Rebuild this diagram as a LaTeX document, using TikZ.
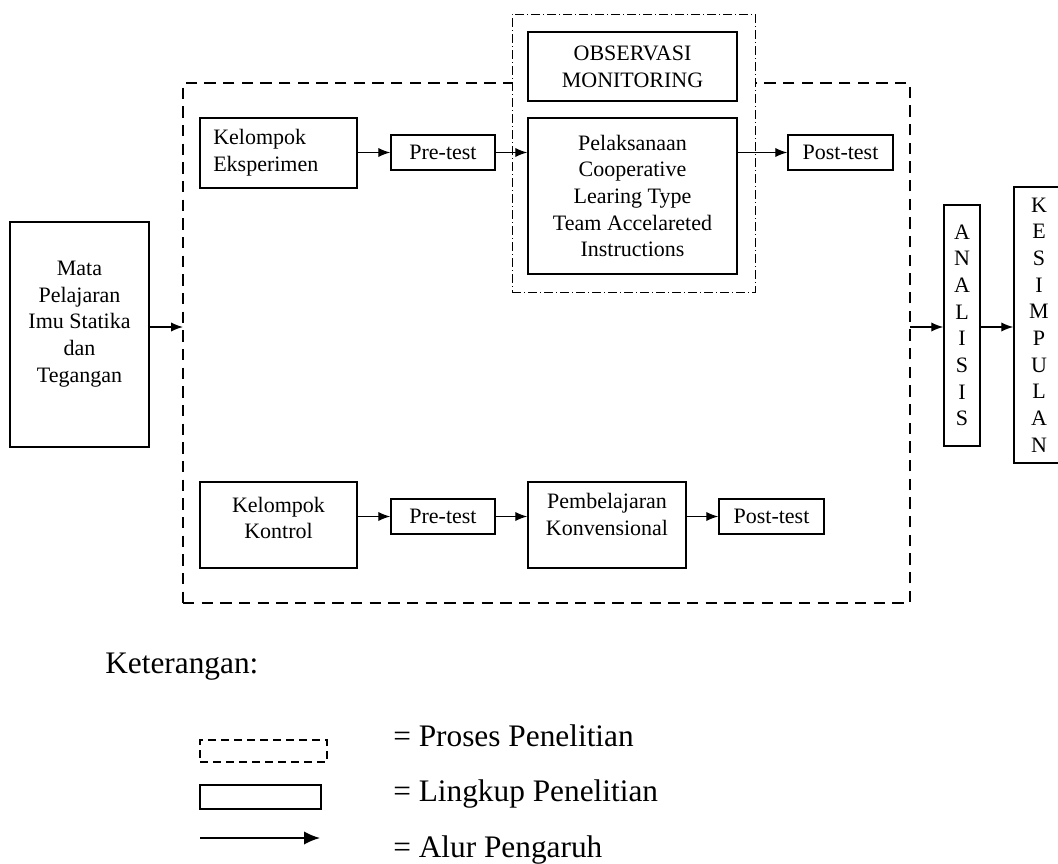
\documentclass[tikz,border=0pt]{standalone}
\usepackage{fontspec}
\setmainfont{Liberation Serif}
\usepackage{tikz}
\usetikzlibrary{arrows.meta}
\tikzstyle{box} = [rectangle, draw, line width=1.1pt, inner sep=0pt, align=center, font=\fontsize{16.5}{20}\selectfont]
\tikzstyle{txt} = [inner sep=0pt, align=center, font=\fontsize{16.5}{20}\selectfont]
\tikzstyle{flow} = [-{Latex[length=9pt, width=7pt]}, line width=1pt]
\tikzstyle{proses} = [rectangle, draw, line width=2.2pt, dash pattern=on 8.5pt off 5.5pt]
\tikzstyle{lingkup} = [rectangle, draw, line width=0.7pt, fill=white, dash pattern=on 7pt off 2pt on 1pt off 2pt]
\tikzstyle{legend} = [inner sep=0pt, font=\fontsize{23.5}{28}\selectfont]

\begin{document}
\begin{tikzpicture}[x=0.75pt, y=-0.75pt]
        \useasboundingbox (0, 0) rectangle (1058, 864);

        \node[box, minimum width=104.25pt, minimum height=168.75pt] at (79.5, 334.5) (Mata) {};
        \node[txt] at (79.5, 324) (MataText) {Mata\\Pelajaran\\Imu Statika\\dan\\Tegangan};

        \node[proses, minimum width=545.25pt, minimum height=390pt] at (546.5, 343) (Proses) {};
        \node[lingkup, minimum width=182.25pt, minimum height=208.5pt] at (633.5, 153) (Observasi) {};

        \node[box, minimum width=117.75pt, minimum height=52.5pt] at (278.5, 153) (KelEksp) {};
        \node[txt, align=left, anchor=west] at (213, 153) (KelEkspText) {Kelompok\\Eksperimen};
        \node[box, minimum width=78pt, minimum height=26.25pt] at (443, 152.5) (PreEksp) {Pre-test};
        \node[box, minimum width=156.75pt, minimum height=51.75pt] at (632.5, 66.5) (Obs) {OBSERVASI\\MONITORING};
        \node[box, minimum width=156.75pt, minimum height=117pt] at (632.5, 196) (TAI) {Pelaksanaan\\Cooperative\\Learing Type\\Team Accelareted\\Instructions};
        \node[box, minimum width=78.75pt, minimum height=26.25pt] at (840.5, 152.5) (PostEksp) {Post-test};

        \node[box, minimum width=117.75pt, minimum height=64.5pt] at (278.5, 525) (KelKontrol) {};
        \node[txt] at (278.5, 518) (KelKontrolText) {Kelompok\\Kontrol};
        \node[box, minimum width=78pt, minimum height=26.25pt] at (443, 516.5) (PreKontrol) {Pre-test};
        \node[box, minimum width=118.5pt, minimum height=64.5pt] at (607, 525) (Konv) {};
        \node[txt] at (607, 514.5) (KonvText) {Pembelajaran\\Konvensional};
        \node[box, minimum width=78.75pt, minimum height=26.25pt] at (771.5, 516.5) (PostKontrol) {Post-test};

        \node[box, minimum width=27pt, minimum height=180.75pt] at (962, 325.5) (Analisis) {A\\N\\A\\L\\I\\S\\I\\S};
        \node[box, minimum width=37.5pt, minimum height=207pt] at (1039, 325) (Kesimpulan) {K\\E\\S\\I\\M\\P\\U\\L\\A\\N};

        \coordinate (ProsesIn) at (183, 327);
        \coordinate (ProsesOut) at (910, 327);

        \draw[flow] (Mata.east |- ProsesIn) -- (ProsesIn);
        \draw[flow] (KelEksp.east |- PreEksp) -- (PreEksp);
        \draw[flow] (PreEksp) -- (TAI.west |- PreEksp);
        \draw[flow] (TAI.east |- PostEksp) -- (PostEksp);
        \draw[flow] (KelKontrol.east |- PreKontrol) -- (PreKontrol);
        \draw[flow] (PreKontrol) -- (Konv.west |- PreKontrol);
        \draw[flow] (Konv.east |- PostKontrol) -- (PostKontrol);
        \draw[flow] (ProsesOut) -- (Analisis.west |- ProsesOut);
        \draw[flow] (Analisis.east |- ProsesOut) -- (Kesimpulan.west |- ProsesOut);

        \node[legend, anchor=base west] at (105, 673) (Keterangan) {Keterangan:};
        \node[rectangle, draw, line width=1pt, dash pattern=on 6pt off 3.75pt, minimum width=95.25pt, minimum height=16.5pt] at (263.5, 751) (KeyProses) {};
        \node[rectangle, draw, line width=1.5pt, minimum width=90.75pt, minimum height=18pt] at (260.5, 797) (KeyLingkup) {};
        \coordinate (KeyAlurStart) at (200, 838);
        \coordinate (KeyAlurEnd) at (320, 838);
        \draw[-{Latex[length=12pt, width=10pt]}, line width=1.3pt] (KeyAlurStart) -- (KeyAlurEnd);
        \node[legend, anchor=base west] at (393, 746) (KeyProsesText) {= Proses Penelitian};
        \node[legend, anchor=base west] at (393, 801) (KeyLingkupText) {= Lingkup Penelitian};
        \node[legend, anchor=base west] at (393, 857) (KeyAlurText) {= Alur Pengaruh};

\end{tikzpicture}
\end{document}
